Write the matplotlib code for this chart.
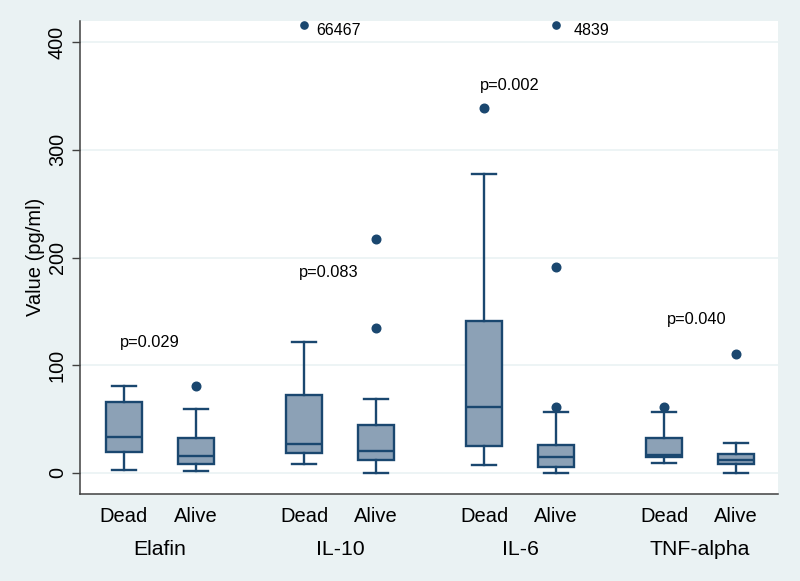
import matplotlib
matplotlib.use("Agg")
import matplotlib.pyplot as plt
import matplotlib.transforms as mtransforms

# ---------------- data ----------------
markers_names = ["Elafin", "IL-10", "IL-6", "TNF-alpha"]
status = ["Dead", "Alive"]

# order: Elafin Dead, Elafin Alive, IL-10 Dead, IL-10 Alive, IL-6 Dead, IL-6 Alive, TNF Dead, TNF Alive
whislo = [3.1, 1.9, 8.4, 0.0, 7.1, 0.0, 9.3, 0.0]
q1 = [19.8, 8.4, 18.3, 12.4, 25.4, 5.3, 14.6, 8.4]
med = [33.4, 15.5, 27.2, 20.1, 61.0, 15.2, 16.7, 12.4]
q3 = [66.0, 32.2, 72.4, 44.5, 141.4, 26.0, 32.2, 17.6]
whishi = [81.0, 59.0, 121.9, 69.0, 277.2, 56.9, 56.9, 27.6]
fliers = [[], [81.0], [], [134.3, 217.2], [338.4], [61.6, 190.9], [61.0], [110.2]]

# extreme outliers shown at the top of the axis with their true value as a label
extreme_box = [2, 5]
extreme_values = ["66467", "4839"]
extreme_display = 415.5

p_values = ["p=0.029", "p=0.083", "p=0.002", "p=0.040"]
p_label_y = [117.2, 182.2, 355.5, 138.3]

yticks = [0, 100, 200, 300, 400]

# ---------------- layout / style ----------------
positions = []
for g in range(len(markers_names)):
    positions += [g * 2.5, g * 2.5 + 1]
p_label_x = [-0.056, 2.435, 4.944, 7.537]
extreme_text_dx = [0.17, 0.25]

bg = "#EAF2F3"
navy = "#1A476F"
fill = "#8CA1B6"
axis_col = "#404040"
FONT = ["Liberation Sans", "DejaVu Sans"]
plt.rcParams["font.family"] = FONT

fig = plt.figure(figsize=(8.0, 5.81), dpi=100)
fig.patch.set_facecolor(bg)
ax = fig.add_axes([80 / 800, (581 - 494) / 581, 698 / 800, (494 - 21) / 581])
ax.set_facecolor("white")

stats = []
for i in range(len(positions)):
    stats.append(dict(whislo=whislo[i], q1=q1[i], med=med[i], q3=q3[i],
                      whishi=whishi[i], fliers=fliers[i]))

lw = 1.7
ax.bxp(stats, positions=positions, widths=0.49, patch_artist=True,
       showfliers=True, capwidths=0.34,
       boxprops=dict(facecolor=fill, edgecolor=navy, linewidth=lw),
       medianprops=dict(color=navy, linewidth=lw),
       whiskerprops=dict(color=navy, linewidth=lw),
       capprops=dict(color=navy, linewidth=lw),
       flierprops=dict(marker="o", markerfacecolor=navy, markeredgecolor=navy,
                       markersize=6.2, linestyle="none"),
       zorder=3)

# extreme outliers
for k, bi in enumerate(extreme_box):
    x = positions[bi]
    ax.plot([x], [extreme_display], marker="o", color=navy, markersize=5.2,
            linestyle="none", zorder=4, clip_on=False)
    ax.text(x + extreme_text_dx[k], 406.5, extreme_values[k], fontsize=11.5,
            ha="left", va="baseline", color="black")

# p-values
for k in range(len(p_values)):
    ax.text(p_label_x[k], p_label_y[k], p_values[k], fontsize=11.8,
            ha="left", va="baseline", color="black")

# axes
ax.set_xlim(-0.611, 9.083)
ax.set_ylim(-19.5, 419.5)
ax.set_yticks(yticks)
ax.set_yticklabels([str(v) for v in yticks])
ax.yaxis.grid(True, color=bg, linewidth=1.2, zorder=0)
ax.set_axisbelow(True)
for s in ["top", "right"]:
    ax.spines[s].set_visible(False)
for s in ["left", "bottom"]:
    ax.spines[s].set_color(axis_col)
    ax.spines[s].set_linewidth(1.1)

ax.tick_params(axis="y", length=6, width=1.0, color=axis_col, pad=6.3,
               labelsize=14.3)
for lab in ax.get_yticklabels():
    lab.set_rotation(90)
    lab.set_rotation_mode("anchor")
    lab.set_ha("center")
    lab.set_va("baseline")

ax.set_xticks(positions)
ax.set_xticklabels(status * len(markers_names))
ax.tick_params(axis="x", length=0, pad=19.9, labelsize=14.5)
for lab in ax.get_xticklabels():
    lab.set_va("baseline")

# group labels
trans = mtransforms.blended_transform_factory(ax.transData, fig.transFigure)
for g, name in enumerate(markers_names):
    cx = (positions[2 * g] + positions[2 * g + 1]) / 2
    ax.text(cx, (581 - 555) / 581, name, transform=trans, fontsize=15.3,
            ha="center", va="baseline", color="black")

fig.text(40.7 / 800, (581 - 257) / 581, "Value (pg/ml)", rotation=90,
         rotation_mode="anchor", ha="center", va="baseline", fontsize=14.5)

fig.savefig("out.png", dpi=100, facecolor=bg)
